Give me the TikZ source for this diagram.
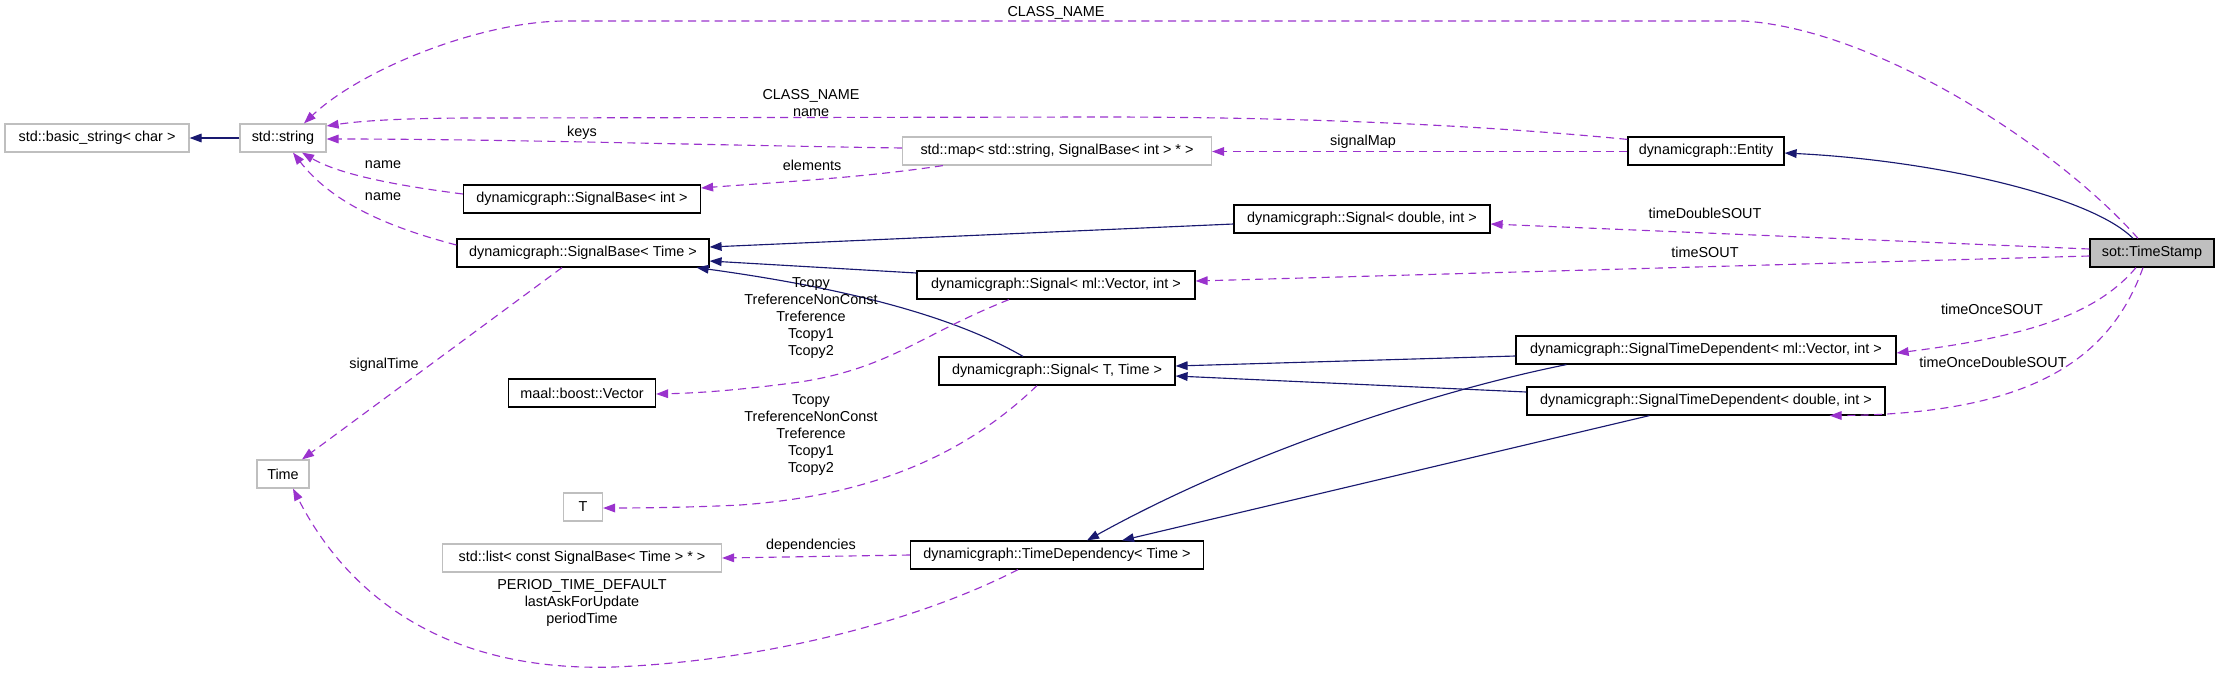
\documentclass[tikz,border=0pt]{standalone}
\usepackage{fontspec}
\setmainfont{Liberation Sans}
\usetikzlibrary{arrows.meta,calc}
\definecolor{inhc}{HTML}{191970}
\definecolor{usec}{HTML}{9A32CD}
\definecolor{grayb}{HTML}{BFBFBF}
\begin{document}
\begin{tikzpicture}[x=0.75pt,y=-0.75pt,
  every node/.style={font=\fontsize{10.8}{12.75}\selectfont, inner sep=0pt},
  cls/.style={draw=black, line width=0.9pt, minimum height=21pt, fill=white, minimum width=#1*0.75pt},
  ext/.style={draw=grayb, line width=0.9pt, minimum height=21pt, fill=white, minimum width=#1*0.75pt},
  cur/.style={draw=black, line width=0.9pt, minimum height=21pt, fill=grayb, minimum width=#1*0.75pt},
  inh/.style={draw=inhc, line width=0.85pt, -{Triangle[length=9pt,width=6.5pt]}},
  use/.style={draw=usec, line width=0.85pt, dash pattern=on 6pt off 4pt, -{Triangle[length=9pt,width=6.5pt]}},
  lbl/.style={align=center, text=black}]
\useasboundingbox (0,0) rectangle (2219,672);
% nodes
\node[ext=184] (bs) at (97,138) {std::basic\_string< char >};
\node[ext=86] (str) at (283,138) {std::string};
\node[ext=309] (map) at (1057,151) {std::map< std::string, SignalBase< int > * >};
\node[cls=156] (ent) at (1706,151) {dynamicgraph::Entity};
\node[cls=237] (sbi) at (582,199) {dynamicgraph::SignalBase< int >};
\node[cls=252] (sbt) at (583,253) {dynamicgraph::SignalBase< Time >};
\node[cls=256] (sdi) at (1362,219) {dynamicgraph::Signal< double, int >};
\node[cls=278] (svi) at (1056,285) {dynamicgraph::Signal< ml::Vector, int >};
\node[cur=124] (ts) at (2152,253) {sot::TimeStamp};
\node[cls=147] (mv) at (582,393) {maal::boost::Vector};
\node[cls=236] (stt) at (1057,371) {dynamicgraph::Signal< T, Time >};
\node[cls=380] (stdv) at (1706,350) {dynamicgraph::SignalTimeDependent< ml::Vector, int >};
\node[cls=358] (stdd) at (1706,401) {dynamicgraph::SignalTimeDependent< double, int >};
\node[ext=52] (time) at (283,474) {Time};
\node[ext=39] (T) at (583,507) {T};
\node[ext=279] (lst) at (582,558) {std::list< const SignalBase< Time > * >};
\node[cls=293] (td) at (1057,555) {dynamicgraph::TimeDependency< Time >};
% inheritance
\draw[inh] (str.west) -- (bs.east);
\draw[inh] ($(ts.north)+(-19,0)$) .. controls (2090,195) and (1930,160) .. ($(ent.east)+(0,2)$);
\draw[inh] ($(sdi.west)+(0,5)$) -- ($(sbt.east)+(0,-6)$);
\draw[inh] ($(svi.west)+(0,-12)$) -- ($(sbt.east)+(0,8)$);
\draw[inh] ($(stt.north)+(-34,0)$) .. controls (960,320) and (860,290) .. ($(sbt.south east)+(-13,0)$);
\draw[inh] ($(stdv.west)+(0,6)$) -- ($(stt.east)+(0,-5)$);
\draw[inh] ($(stdd.west)+(0,-9)$) -- ($(stt.east)+(0,5)$);
\draw[inh] ($(stdv.south west)+(51,0)$) .. controls (1440,390) and (1250,450) .. ($(td.north)+(30,0)$);
\draw[inh] ($(stdd.south west)+(123,0)$) -- ($(td.north)+(65,0)$);
% usage
\draw[use] ($(ts.north)+(-14,0)$) .. controls (2060,150) and (1880,30) .. (1744,21) -- (566,21) .. controls (480,21) and (360,70) .. ($(str.north)+(21,0)$);
\node[lbl] (l1) at (1056,13) {CLASS\_NAME};
\draw[use] ($(ent.north west)+(0,3)$) .. controls (1480,125) and (1300,117) .. (1100,117) -- (480,118) .. controls (400,118) and (360,121) .. ($(str.east)+(0,-12)$);
\node[lbl] (l2) at (811,103.5) {CLASS\_NAME\\name};
\draw[use] ($(map.west)+(0,-3)$) .. controls (700,145) and (500,139) .. ($(str.east)+(0,1)$);
\node[lbl] (l3) at (582,133) {keys};
\draw[use] ($(ent.west)+(0,0.5)$) -- ($(map.east)+(0,0.5)$);
\node[lbl] (l4) at (1363,142) {signalMap};
\draw[use] ($(map.south west)+(41,0)$) .. controls (860,178) and (780,182) .. ($(sbi.east)+(0,-11)$);
\node[lbl] (l5) at (812,165) {elements};
\draw[use] ($(sbi.west)+(0,-5)$) .. controls (400,186) and (340,175) .. ($(str.south)+(19,0)$);
\node[lbl] (l6) at (383,165) {name};
\draw[use] ($(sbt.west)+(0,-8)$) .. controls (380,225) and (330,200) .. ($(str.south)+(10,0)$);
\node[lbl] (l7) at (383,197) {name};
\draw[use] ($(sbt.south)+(-21,0)$) -- ($(time.north)+(19,0)$);
\node[lbl] (l8) at (384,365) {signalTime};
\draw[use] ($(ts.west)+(0,-4)$) -- ($(sdi.east)+(0,5)$);
\node[lbl] (l9) at (1705,213) {timeDoubleSOUT};
\draw[use] ($(ts.west)+(0,3)$) -- ($(svi.east)+(0,-4)$);
\node[lbl] (l10) at (1705,252) {timeSOUT};
\draw[use] ($(svi.south)+(-47,0)$) .. controls (920,335) and (890,368) .. (800,382) .. controls (740,390) and (700,393) .. ($(mv.east)+(0,1)$);
\node[lbl] (l11) at (811,318) {Tcopy\\TreferenceNonConst\\Treference\\Tcopy1\\Tcopy2};
\draw[use] ($(stt.south)+(-20,0)$) .. controls (970,450) and (880,495) .. (740,505) .. controls (700,507) and (650,508) .. ($(T.east)+(0,1)$);
\node[lbl] (l12) at (811,435.5) {Tcopy\\TreferenceNonConst\\Treference\\Tcopy1\\Tcopy2};
\draw[use] (td.west) -- (lst.east);
\node[lbl] (l13) at (811,546) {dependencies};
\draw[use] ($(td.south)+(-39,0)$) .. controls (930,615) and (780,660) .. (614,667) .. controls (450,672) and (350,600) .. ($(time.south)+(10,0)$);
\node[lbl] (l14) at (582,603) {PERIOD\_TIME\_DEFAULT\\lastAskForUpdate\\periodTime};
\draw[use] ($(ts.south)+(-16,0)$) .. controls (2100,310) and (2040,335) .. ($(stdv.east)+(0,3)$);
\node[lbl] (l15) at (1992,309) {timeOnceSOUT};
\draw[use] ($(ts.south)+(-9,0)$) .. controls (2110,360) and (2030,414) .. ($(stdd.south east)+(-56,0)$);
\node[lbl] (l16) at (1993,362) {timeOnceDoubleSOUT};
\end{tikzpicture}
\end{document}
